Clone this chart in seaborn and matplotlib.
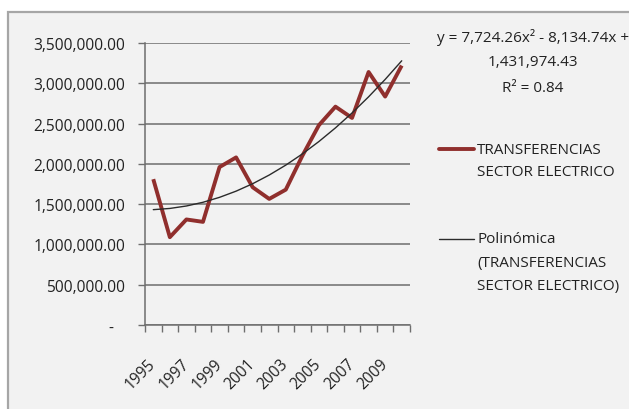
import numpy as np
import pandas as pd
import matplotlib
matplotlib.use("Agg")
import matplotlib.pyplot as plt
from matplotlib.patches import Rectangle
from matplotlib.lines import Line2D
from matplotlib.ticker import FuncFormatter, FixedLocator
import seaborn as sns

# Annual transfers to the electricity sector
years = [str(y) for y in range(1995, 2011)]
transferencias = [1810000, 1090000, 1310000, 1280000, 1960000, 2080000,
                  1710000, 1565000, 1680000, 2100000, 2480000, 2710000,
                  2570000, 3140000, 2835000, 3220000]

# Second-order polynomial trend (x = 1..n)
coef_a = 7724.26
coef_b = -8134.74
coef_c = 1431974.43
r_squared = 0.84

series_label = "TRANSFERENCIAS\nSECTOR ELECTRICO"
trend_label = "Polinómica\n(TRANSFERENCIAS\nSECTOR ELECTRICO)"

sns.set_theme(style="white")
plt.rcParams["font.family"] = ["Open Sans", "DejaVu Sans"]

W, H = 629, 410
fig = plt.figure(figsize=(W / 100, H / 100), dpi=100)
fig.patch.set_facecolor("white")

# chart area panel with grey frame
panel = Rectangle((8 / W, -0.05), 1.2, 1 - 13 / H + 0.05, transform=fig.transFigure,
                  facecolor="#f2f2f2", edgecolor="#a6a6a6", linewidth=1.6, zorder=-5)
fig.patches.append(panel)

ax = fig.add_axes([145 / W, 1 - 326 / H, (410 - 145) / W, (326 - 44) / H])
ax.set_facecolor("none")
ax.set_zorder(2)

df = pd.DataFrame({"pos": np.arange(len(years)), "year": years, "valor": transferencias})
idx = np.arange(1, len(years) + 1)
df["tendencia"] = coef_a * idx ** 2 + coef_b * idx + coef_c

red = "#902f2d"
sns.lineplot(data=df, x="pos", y="valor", ax=ax, color=red, linewidth=2.8,
             solid_capstyle="butt", zorder=3)
sns.lineplot(data=df, x="pos", y="tendencia", ax=ax, color="#2b2b2b", linewidth=1.0,
             zorder=4)

ax.set_xlim(-0.5, len(years) - 0.5)
ax.set_ylim(0, 3500000)
ax.set_xlabel("")
ax.set_ylabel("")

# y axis
ax.set_yticks(np.arange(0, 3500001, 500000))
ax.yaxis.set_major_formatter(FuncFormatter(lambda v, p: "-   " if v == 0 else f"{v:,.2f}"))
ax.yaxis.grid(True, color="#6e6e6e", linewidth=1.1)
ax.tick_params(axis="y", which="major", length=5, width=1, color="#6e6e6e",
               direction="out", pad=9, labelsize=11.2, labelcolor="#222222", left=True)

# x axis: tick marks between categories, labels every other year
ax.xaxis.set_minor_locator(FixedLocator(np.arange(-0.5, len(years), 1.0)))
ax.set_xticks(np.arange(0, len(years), 2))
ax.set_xticklabels(years[::2], rotation=45, ha="right", va="center",
                   rotation_mode="anchor")
ax.tick_params(axis="x", which="major", length=0, pad=26, labelsize=11.2,
               labelcolor="#222222")
ax.tick_params(axis="x", which="minor", length=5, width=1, color="#6e6e6e",
               direction="out", bottom=True)

for s in ["top", "right"]:
    ax.spines[s].set_visible(False)
for s in ["left", "bottom"]:
    ax.spines[s].set_color("#6e6e6e")
    ax.spines[s].set_linewidth(1.1)

# trendline equation
txt_kw = dict(fontsize=11, color="#222222", ha="center", va="center")
cx = 533 / W
fig.text(cx, 1 - 37 / H, f"y = {coef_a:,.2f}x\u00b2 - {abs(coef_b):,.2f}x +", **txt_kw)
fig.text(cx, 1 - 63 / H, f"{coef_c:,.2f}", **txt_kw)
fig.text(cx, 1 - 89 / H, f"R\u00b2 = {r_squared:.2f}", **txt_kw)

# legend
leg_kw = dict(fontsize=11, color="#222222", ha="left", va="center")
fig.add_artist(Line2D([439 / W, 474 / W], [1 - 150 / H] * 2, transform=fig.transFigure,
                      color=red, linewidth=2.8))
for i, line in enumerate(series_label.split("\n")):
    fig.text(477 / W, 1 - (150 + 23 * i) / H, line, **leg_kw)
fig.add_artist(Line2D([439 / W, 474 / W], [1 - 240 / H] * 2, transform=fig.transFigure,
                      color="#2b2b2b", linewidth=1.0))
for i, line in enumerate(trend_label.split("\n")):
    fig.text(477 / W, 1 - (240 + 23.5 * i) / H, line, **leg_kw)

fig.savefig("out.png", dpi=100, facecolor="white")
